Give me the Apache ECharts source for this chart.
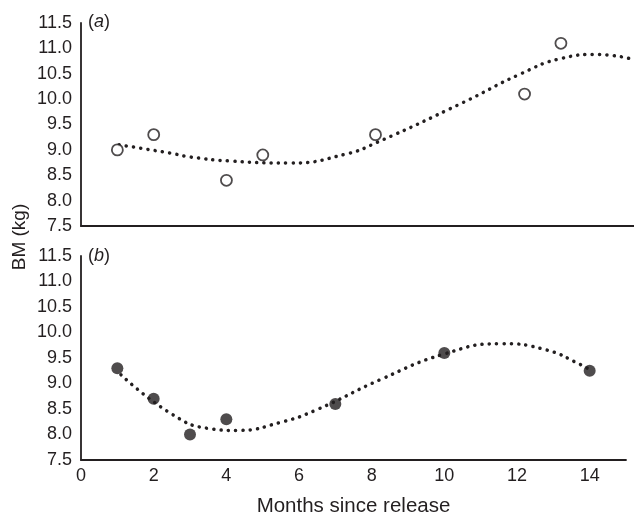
<!DOCTYPE html>
<html><head><meta charset="utf-8">
<script src="https://cdn.jsdelivr.net/npm/echarts@6/dist/echarts.min.js"></script>
<style>html,body{margin:0;padding:0;background:#fff}#c{width:634px;height:518px}</style>
</head><body><div id="c"></div>
<script>
var monthsA = [1, 2, 4, 5, 8.1, 12.2, 13.2];
var bmA = [9.0, 9.3, 8.4, 8.9, 9.3, 10.1, 11.1];
var trendAx = [1.05, 2.5, 3, 4.1, 5.75, 7.3, 8.15, 10.5, 12.1, 13.2, 14.2, 15.2];
var trendAy = [9.1, 8.93, 8.86, 8.78, 8.74, 8.92, 9.15, 9.93, 10.5, 10.8, 10.88, 10.78];
var monthsB = [1, 2, 3, 4, 7, 10, 14];
var bmB = [9.3, 8.7, 8.0, 8.3, 8.6, 9.6, 9.25];
var trendBx = [1.1, 2.5, 3.5, 4.3, 5.5, 6.5, 8.25, 10, 11.55, 12.8, 13.75, 14];
var trendBy = [9.17, 8.4, 8.12, 8.08, 8.24, 8.49, 9.08, 9.58, 9.78, 9.66, 9.37, 9.27];
var xTicks = [0, 2, 4, 6, 8, 10, 12, 14];

function zip(a, b) { return a.map(function (v, i) { return [v, b[i]]; }); }
var FONT = '"Liberation Sans", Arial, sans-serif';
var INK = '#231f20';
var axisLine = { show: true, onZero: false, lineStyle: { color: INK, width: 1.8 } };
function yAxis(idx) {
  return {
    type: 'value', gridIndex: idx, min: 7.5, max: 11.5, interval: 0.5,
    axisLine: axisLine, axisTick: { show: false }, splitLine: { show: false },
    axisLabel: { color: INK, fontFamily: FONT, fontSize: 18, margin: 9,
      formatter: function (v) { return v.toFixed(1); } }
  };
}
var chart = echarts.init(document.getElementById('c'));
chart.setOption({
  animation: false,
  grid: [
    { left: 81, top: 23, width: 553, height: 203 },
    { left: 81, top: 256, width: 545, height: 205 }
  ],
  xAxis: [
    { type: 'value', gridIndex: 0, min: 0, max: 15.21, axisLine: axisLine,
      axisTick: { show: false }, axisLabel: { show: false }, splitLine: { show: false } },
    { type: 'value', gridIndex: 1, min: 0, max: 15, interval: 2, axisLine: axisLine,
      axisTick: { show: false }, splitLine: { show: false },
      axisLabel: { color: INK, fontFamily: FONT, fontSize: 18, margin: 7,
        formatter: function (v) { return xTicks.indexOf(v) >= 0 ? String(v) : ''; } },
      name: 'Months since release', nameLocation: 'middle', nameGap: 36,
      nameTextStyle: { color: INK, fontFamily: FONT, fontSize: 20.5 } }
  ],
  yAxis: [yAxis(0), yAxis(1)],
  graphic: [
    { type: 'text', left: 88, top: 13, style: { text: '{n|(}{i|a}{n|)}', rich: {
      n: { fontFamily: FONT, fontSize: 18, fill: INK },
      i: { fontFamily: FONT, fontSize: 18, fontStyle: 'italic', fill: INK } } } },
    { type: 'text', left: 88, top: 247, style: { text: '{n|(}{i|b}{n|)}', rich: {
      n: { fontFamily: FONT, fontSize: 18, fill: INK },
      i: { fontFamily: FONT, fontSize: 18, fontStyle: 'italic', fill: INK } } } },
    { type: 'text', x: 20, y: 237, rotation: Math.PI / 2,
      style: { text: 'BM (kg)', fontFamily: FONT, fontSize: 19, fill: INK,
        align: 'center', verticalAlign: 'middle' } }
  ],
  series: [
    { type: 'line', xAxisIndex: 0, yAxisIndex: 0, data: zip(trendAx, trendAy), smooth: 0.5,
      showSymbol: false, lineStyle: { color: INK, width: 3.5, type: [0.1, 7.2], cap: 'round' }, z: 2 },
    { type: 'scatter', xAxisIndex: 0, yAxisIndex: 0, data: zip(monthsA, bmA), symbolSize: 11,
      itemStyle: { color: '#fff', borderColor: INK, borderWidth: 1.8 }, z: 3 },
    { type: 'line', xAxisIndex: 1, yAxisIndex: 1, data: zip(trendBx, trendBy), smooth: 0.5,
      showSymbol: false, lineStyle: { color: INK, width: 3.5, type: [0.1, 7.2], cap: 'round' }, z: 2 },
    { type: 'scatter', xAxisIndex: 1, yAxisIndex: 1, data: zip(monthsB, bmB), symbolSize: 12,
      itemStyle: { color: INK }, z: 3 }
  ]
});
</script></body></html>
